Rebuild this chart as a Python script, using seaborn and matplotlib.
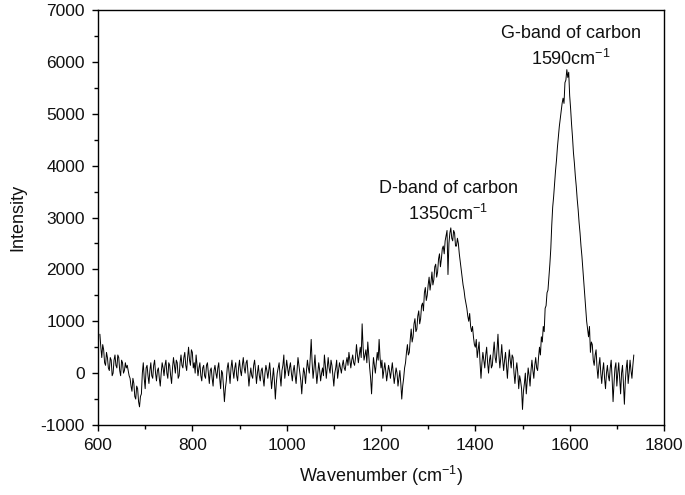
import numpy as np
import pandas as pd
import matplotlib
matplotlib.use("Agg")
import matplotlib.pyplot as plt
from matplotlib.ticker import MultipleLocator
import seaborn as sns

wavenumber = np.arange(604, 1737, 2)

intensity_604_702 = [750, 500, 300, 550, 450, 200, 150, 400, 300, 100, 50, 300, 250, -50, 0, 250,
                     350, 150, 100, 350, 300, 50, -50, 250, 200, 0, 50, 200, 100, 150, 50, -50,
                     -100, -250, -350, -100, -200, -450, -500, -250, -300, -550, -650, -450, -400,
                     0, 200, -100, -300, 100]
intensity_704_802 = [150, -50, -200, 50, 200, -50, -100, 150, 250, 0, -150, 50, 100, -100, -250, 0,
                     200, 100, -50, 150, 250, 0, -100, 200, 150, -50, -200, 100, 300, 150, 0, 250,
                     200, -100, -50, 200, 350, 150, 100, 300, 400, 150, 50, 300, 500, 250, 150,
                     450, 400, 100]
intensity_804_902 = [200, 0, 350, 150, -50, 100, 200, -50, -150, 100, 150, -50, -100, 150, 200, 0,
                     -200, 50, 100, -100, -250, 50, 150, 0, -100, 100, 200, -100, -300, 50, 0,
                     -250, -550, -300, -150, 100, 200, 0, -200, 100, 250, 50, -100, 100, 200, -50,
                     -150, 100, 250, 50]
intensity_904_1002 = [-50, 150, 300, 100, 0, 200, 250, 0, -250, -50, 100, -50, -100, 150, 250, 50,
                      -200, 0, 150, -50, -150, 50, 100, -100, -250, 0, 150, 50, -100, 50, 200, -50,
                      -300, -100, 100, -150, -500, -200, 0, 100, 200, -50, -250, 50, 150, 350,
                      -100, 50, 250, 100]
intensity_1004_1102 = [-50, 100, 200, 0, -150, 50, 150, -50, -200, 50, 300, 150, 0, -150, -400,
                       -100, 100, 0, -200, 50, 250, 100, 0, 300, 650, 200, -100, 100, 350, 50,
                       -200, 0, 200, 50, -150, 0, 100, -50, 350, 150, -100, 100, 300, 100, 0, 250,
                       150, -50, -250, 0]
intensity_1104_1202 = [100, 250, -100, 50, 200, 100, 0, 150, 250, 100, 50, 200, 300, 150, 400, 250,
                       100, 250, 350, 200, 150, 300, 550, 350, 200, 350, 500, 300, 950, 500, 250,
                       350, 450, 200, 600, 350, 100, -100, -400, 0, 300, 150, 0, 200, 400, 250,
                       650, 300, 100, 250]
intensity_1204_1302 = [-100, 50, 200, 50, -150, 0, 150, 50, -100, 50, 200, 0, -200, -50, 100, 0,
                       -250, -100, 50, -200, -500, -250, -100, 100, 200, 400, 550, 350, 400, 650,
                       850, 600, 700, 950, 1050, 800, 850, 1100, 1200, 950, 1050, 1300, 1350,
                       1200, 1550, 1650, 1400, 1500, 1700, 1850]
intensity_1304_1402 = [1600, 1750, 1950, 1700, 1800, 2050, 2100, 1850, 1950, 2200, 2300, 2050, 2200,
                       2400, 2450, 2300, 2550, 2650, 2750, 1900, 2500, 2700, 2800, 2600, 2550, 2750,
                       2700, 2450, 2450, 2600, 2500, 2300, 2150, 2000, 1850, 1700, 1600, 1450,
                       1350, 1250, 1100, 1000, 1150, 900, 800, 900, 700, 550, 500, 650]
intensity_1404_1502 = [300, 450, 600, 200, -100, 200, 400, 250, 100, 350, 500, 200, 0, 250, 350,
                       100, 150, 400, 600, 300, 200, 450, 750, 350, 100, 300, 550, 250, 50, 250,
                       400, 150, -100, 200, 450, 250, 100, 350, 300, 0, -200, 50, 200, 0, -300,
                       -50, -150, -300, -700, -350]
intensity_1504_1602 = [-200, 0, -400, -150, 100, -50, -250, 50, 250, 50, -100, 150, 300, 100, 50,
                       300, 500, 350, 700, 600, 900, 800, 1250, 1300, 1550, 1600, 1850, 2100, 2400,
                       2850, 3200, 3400, 3650, 3900, 4100, 4350, 4550, 4750, 4900, 5050, 5200,
                       5300, 5200, 5600, 5650, 5850, 5700, 5800, 5350, 5100]
intensity_1604_1702 = [4800, 4550, 4250, 4050, 3800, 3600, 3350, 3150, 2900, 2700, 2450, 2250, 2000,
                       1750, 1500, 1250, 1000, 850, 700, 900, 400, 600, 550, 250, 150, 350, 450,
                       100, -100, 150, 300, 0, -200, 50, 200, -100, -300, 0, 150, -50, -150, 100,
                       250, -100, -550, -200, 100, 200, -250, 0]
intensity_1704_1736 = [200, -100, -400, 0, 150, -200, -600, -150, 100, 250, -200, 0, 250, 50, -100,
                       150, 350]

intensity = (intensity_604_702 + intensity_704_802 + intensity_804_902 + intensity_904_1002
             + intensity_1004_1102 + intensity_1104_1202 + intensity_1204_1302
             + intensity_1304_1402 + intensity_1404_1502 + intensity_1504_1602
             + intensity_1604_1702 + intensity_1704_1736)

x_ticks = [600, 800, 1000, 1200, 1400, 1600, 1800]
y_ticks = [-1000, 0, 1000, 2000, 3000, 4000, 5000, 6000, 7000]

annotations = [
    ("D-band of carbon", r"1350cm$^{\mathrm{-1}}$", 1343, 3560, 3060),
    ("G-band of carbon", r"1590cm$^{\mathrm{-1}}$", 1602, 6550, 6060),
]

sns.set_theme(style="ticks")
plt.rcParams["font.family"] = ["Liberation Sans", "DejaVu Sans"]
plt.rcParams["mathtext.fontset"] = "custom"
plt.rcParams["mathtext.rm"] = "Liberation Sans"
plt.rcParams["mathtext.it"] = "Liberation Sans"
plt.rcParams["mathtext.bf"] = "Liberation Sans"

df = pd.DataFrame({"Wavenumber": wavenumber[:len(intensity)], "Intensity": intensity})

fig = plt.figure(figsize=(6.85, 4.95), dpi=100)
ax = fig.add_axes([98 / 685, 70 / 495, 566 / 685, 415 / 495])

sns.lineplot(data=df, x="Wavenumber", y="Intensity", color="black", linewidth=0.7,
             estimator=None, ax=ax)

ax.set_xlim(600, 1800)
ax.set_ylim(-1000, 7000)
ax.set_xticks(x_ticks)
ax.set_yticks(y_ticks)
ax.set_xticklabels([str(v) for v in x_ticks])
ax.set_yticklabels([str(v) for v in y_ticks])
ax.xaxis.set_minor_locator(MultipleLocator(100))
ax.yaxis.set_minor_locator(MultipleLocator(500))
ax.tick_params(axis="both", which="major", direction="out", length=4.5, width=1.0,
               labelsize=12.5, color="black", labelcolor="#111111", pad=5)
ax.tick_params(axis="both", which="minor", direction="out", length=3, width=1.0,
               color="black")
ax.tick_params(top=False, right=False, which="both")
for s in ax.spines.values():
    s.set_linewidth(1.0)
    s.set_color("black")
    s.set_visible(True)

ax.set_xlabel(r"Wavenumber (cm$^{\mathrm{-1}}$)", fontsize=13, color="#111111", labelpad=8)
ax.set_ylabel("Intensity", fontsize=13, color="#111111", labelpad=10)

for line1, line2, x, y1, y2 in annotations:
    ax.text(x, y1, line1, ha="center", va="center", fontsize=13, color="#111111")
    ax.text(x, y2, line2, ha="center", va="center", fontsize=13, color="#111111")

fig.savefig("out.png", dpi=100)
